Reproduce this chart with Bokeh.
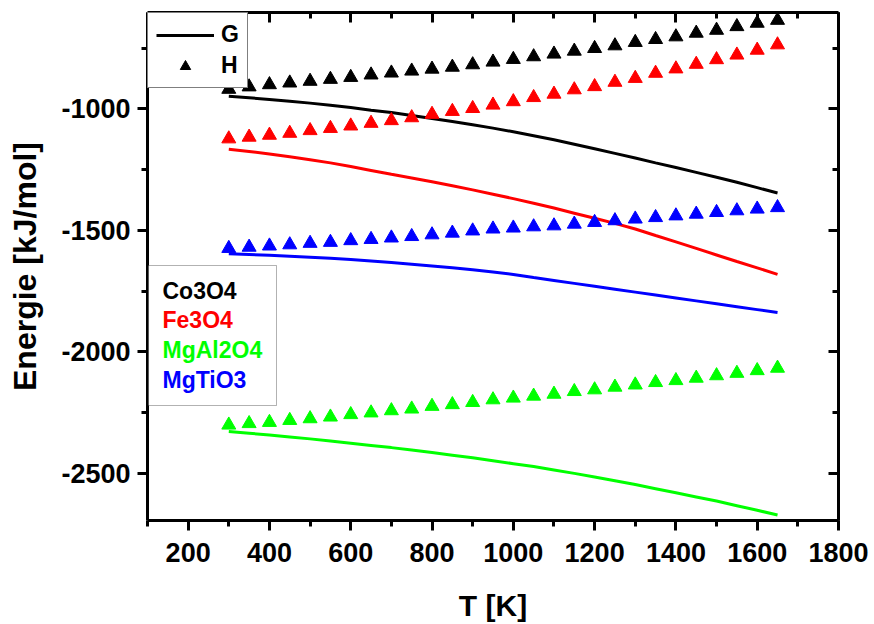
from bokeh.plotting import figure
from bokeh.models import (Range1d, LinearAxis, SingleIntervalTicker, Legend, LegendItem,
                          Label, BoxAnnotation, PrintfTickFormatter, CustomLabelingPolicy)
from bokeh.embed import file_html
from bokeh.resources import INLINE

# ---------------- data ----------------
T = [300, 350, 400, 450, 500, 550, 600, 650, 700, 750, 800, 850, 900, 950, 1000,
     1050, 1100, 1150, 1200, 1250, 1300, 1350, 1400, 1450, 1500, 1550, 1600, 1650]

names = ["Co3O4", "Fe3O4", "MgAl2O4", "MgTiO3"]
colors = ["#000000", "#FF0000", "#00FF00", "#0000FF"]

H_Co3O4 = [-919, -909, -900, -893, -886, -878, -870, -860, -852, -844, -836, -828, -818, -807,
           -796, -785, -774, -762, -751, -740, -726, -714, -703, -688, -676, -661, -647, -635]
G_Co3O4 = [-948, -954, -961, -968, -976, -985, -994, -1005, -1015, -1027, -1039, -1052, -1065, -1079,
           -1094, -1110, -1127, -1145, -1164, -1183, -1202, -1222, -1241, -1261, -1281, -1302, -1324, -1346]

H_Fe3O4 = [-1123, -1116, -1108, -1100, -1089, -1080, -1070, -1059, -1048, -1036, -1022, -1010, -998, -984,
           -970, -953, -939, -921, -908, -890, -874, -853, -835, -816, -797, -778, -758, -736]
G_Fe3O4 = [-1166, -1175, -1185, -1197, -1209, -1222, -1237, -1253, -1269, -1284, -1300, -1316, -1333, -1351,
           -1369, -1388, -1408, -1429, -1450, -1471, -1494, -1521, -1547, -1574, -1601, -1628, -1654, -1681]

H_MgAl2O4 = [-2301, -2295, -2290, -2282, -2275, -2268, -2258, -2251, -2242, -2235, -2224, -2217, -2208, -2197,
             -2190, -2182, -2174, -2163, -2156, -2145, -2136, -2126, -2118, -2108, -2098, -2088, -2077, -2067]
G_MgAl2O4 = [-2328, -2335, -2342, -2350, -2358, -2367, -2376, -2385, -2394, -2404, -2414, -2425, -2436, -2448,
             -2460, -2472, -2486, -2500, -2515, -2530, -2546, -2563, -2580, -2597, -2614, -2633, -2652, -2671]

H_MgTiO3 = [-1574, -1569, -1564, -1559, -1553, -1549, -1542, -1537, -1531, -1525, -1518, -1511, -1502, -1494,
            -1490, -1485, -1481, -1474, -1467, -1460, -1453, -1447, -1440, -1433, -1426, -1419, -1412, -1406]
G_MgTiO3 = [-1596, -1599, -1602, -1606, -1610, -1615, -1620, -1626, -1632, -1639, -1646, -1654, -1662, -1671,
            -1681, -1694, -1706, -1718, -1730, -1742, -1754, -1766, -1778, -1790, -1802, -1814, -1826, -1838]

H_all = [H_Co3O4, H_Fe3O4, H_MgAl2O4, H_MgTiO3]
G_all = [G_Co3O4, G_Fe3O4, G_MgAl2O4, G_MgTiO3]

x_range = (100, 1800)
y_range = (-2694, -603)
x_tick_step = 200
y_tick_step = 500

FONT = "Liberation Sans"

# ---------------- figure ----------------
W, H = 872, 624
FL, FR, FT, FB = 147, 839, 12, 523   # frame edges in canvas pixels
p = figure(width=W, height=H, output_backend="svg", toolbar_location=None,
           x_range=Range1d(*x_range), y_range=Range1d(*y_range),
           x_axis_type=None, y_axis_type=None,
           min_border_left=FL, min_border_right=W - FR,
           min_border_top=FT, min_border_bottom=H - FB)
p.outline_line_color = None
p.xgrid.visible = False
p.ygrid.visible = False
p.background_fill_color = "white"
p.border_fill_color = "white"


def make_axis(ticker, labels, inward):
    ax = LinearAxis(ticker=ticker)
    ax.axis_line_width = 3
    ax.axis_line_color = "black"
    ax.major_tick_line_width = 3
    ax.minor_tick_line_width = 3
    if inward:
        ax.major_tick_in = 10
        ax.major_tick_out = 0
        ax.minor_tick_in = 6
        ax.minor_tick_out = 0
    else:
        ax.major_tick_in = 0
        ax.major_tick_out = 10
        ax.minor_tick_in = 0
        ax.minor_tick_out = 6
    if labels:
        ax.formatter = PrintfTickFormatter(format="%d")
        ax.major_label_text_font = FONT
        ax.major_label_text_font_style = "bold"
        ax.major_label_text_font_size = "27px"
        ax.major_label_text_color = "black"
        ax.axis_label_text_font = FONT
        ax.axis_label_text_font_style = "bold"
        ax.axis_label_text_color = "black"
    else:
        ax.major_label_policy = CustomLabelingPolicy(code="return new Set()")
        ax.major_label_standoff = 0
    return ax


xt = SingleIntervalTicker(interval=x_tick_step, num_minor_ticks=2)
yt = SingleIntervalTicker(interval=y_tick_step, num_minor_ticks=2)

xb = make_axis(xt, True, False)
xb.axis_label = "T [K]"
xb.axis_label_text_font_size = "30px"
xb.major_label_standoff = 12
xb.axis_label_standoff = 24
p.add_layout(xb, "below")

yl = make_axis(yt, True, False)
yl.axis_label = "Energie [kJ/mol]"
yl.axis_label_text_font_size = "32px"
yl.major_label_standoff = 7
yl.axis_label_standoff = 15
p.add_layout(yl, "left")

p.add_layout(make_axis(xt, False, True), "above")
p.add_layout(make_axis(yt, False, True), "right")

# ---------------- data renderers ----------------
g_r, h_r = [], []
for c, g, h in zip(colors, G_all, H_all):
    g_r.append(p.line(T, g, line_color=c, line_width=3))
    h_r.append(p.scatter(T, h, marker="triangle", size=14, fill_color=c, line_color=c))

# ---------------- legends ----------------
leg1 = Legend(items=[LegendItem(label="G", renderers=[g_r[0]]),
                     LegendItem(label="H", renderers=[h_r[0]])],
              location="top_left", margin=0, padding=8, spacing=4,
              glyph_width=58, glyph_height=26, label_standoff=7, label_width=17,
              label_text_font=FONT, label_text_font_style="bold", label_text_font_size="23px",
              label_text_color="black",
              border_line_color="black", border_line_width=1,
              background_fill_color="white", background_fill_alpha=1)
p.add_layout(leg1)

box = BoxAnnotation(left=1, right=129, bottom=115, top=255,
                    left_units="screen", right_units="screen",
                    bottom_units="screen", top_units="screen",
                    fill_color="white", fill_alpha=1, line_color="black", line_width=1)
p.add_layout(box)
for name, c, yy in zip(names, colors, [230, 201, 171, 141]):
    p.add_layout(Label(x=15, y=yy, x_units="screen", y_units="screen", text=name,
                       text_color=c, text_font=FONT, text_font_style="bold",
                       text_font_size="23px", text_baseline="middle"))

open("out.html", "w").write(file_html(p, INLINE))
